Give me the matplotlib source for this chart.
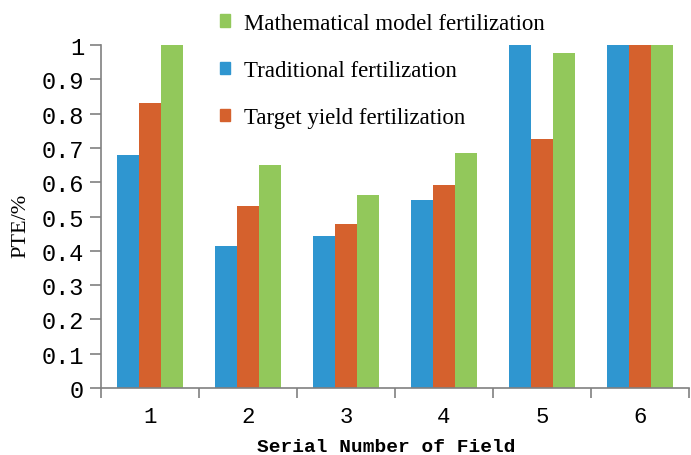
import numpy as np
import matplotlib
matplotlib.use('Agg')
import matplotlib.pyplot as plt
from matplotlib.patches import Patch

# 数据
fields = ['1', '2', '3', '4', '5', '6']
traditional = [0.68, 0.414, 0.443, 0.548, 1.0, 1.0]
target_yield = [0.831, 0.53, 0.478, 0.592, 0.726, 1.0]
math_model = [1.0, 0.65, 0.563, 0.685, 0.977, 1.0]
y_ticks = [0, 0.1, 0.2, 0.3, 0.4, 0.5, 0.6, 0.7, 0.8, 0.9, 1]
y_labels = ['0', '0.1', '0.2', '0.3', '0.4', '0.5', '0.6', '0.7', '0.8', '0.9', '1']

c_blue = '#2f96d0'
c_orange = '#d5612d'
c_green = '#92c85b'
axis_col = '#808080'

fig = plt.figure(figsize=(6.91, 4.56), dpi=100)
ax = fig.add_axes([0.146, 0.147, 0.851, 0.752])

x = np.arange(len(fields))
w = 0.225
ax.bar(x - w, traditional, w, color=c_blue)
ax.bar(x, target_yield, w, color=c_orange)
ax.bar(x + w, math_model, w, color=c_green)

ax.set_xlim(-0.5, len(fields) - 0.5)
ax.set_ylim(0, 1)

for s in ['top', 'right']:
    ax.spines[s].set_visible(False)
for s in ['left', 'bottom']:
    ax.spines[s].set_color(axis_col)
    ax.spines[s].set_linewidth(1.2)

mono = 'Liberation Mono'
ax.set_yticks(y_ticks)
ax.set_yticklabels(y_labels, family=mono, fontsize=17)
ax.tick_params(axis='y', direction='out', length=8, width=1.2, color=axis_col, pad=4)

ax.set_xticks(x)
ax.set_xticklabels(fields, family=mono, fontsize=16)
ax.tick_params(axis='x', which='major', length=0, pad=13)
ax.set_xticks(np.arange(-0.5, len(fields)), minor=True)
ax.tick_params(axis='x', which='minor', direction='out', length=7, width=1.2, color=axis_col)

fig.text(0.559, 0.0, 'Serial Number of Field', family=mono, fontsize=14,
         fontweight='bold', ha='center', va='bottom')
fig.text(0.03, 0.505, 'PTE/%', family='Liberation Serif', fontsize=16,
         rotation=90, ha='center', va='center')

handles = [Patch(color=c_green), Patch(color=c_blue), Patch(color=c_orange)]
labels = ['Mathematical model fertilization', 'Traditional fertilization',
          'Target yield fertilization']
fig.legend(handles, labels, loc='upper left', bbox_to_anchor=(0.298, 1.0),
           frameon=False, prop={'family': 'Liberation Serif', 'size': 16.5},
           handlelength=0.45, handleheight=0.45, handletextpad=0.6,
           labelspacing=1.15, borderaxespad=0.2)

plt.savefig('out.png')
